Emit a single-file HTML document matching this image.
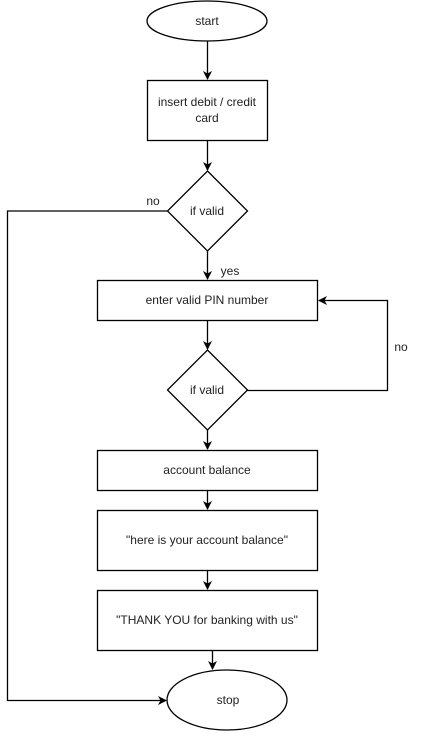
<!DOCTYPE html>
<html><head><style>body{margin:0;background:#fff}</style></head><body>
<svg width="424" height="731" xmlns="http://www.w3.org/2000/svg" font-family="Liberation Sans, Arial, sans-serif" font-size="12" fill="#222">
<defs><marker id="a" markerWidth="10" markerHeight="10" refX="8" refY="5" orient="auto" markerUnits="userSpaceOnUse"><path d="M0,0.5 L9,5 L0,9.5 L2.5,5 z" fill="#000"/></marker></defs>
<g stroke="#000" stroke-width="1.3" fill="none">
<ellipse cx="207" cy="21" rx="60" ry="20" fill="#fff"/>
<rect x="147.5" y="80.5" width="120" height="60" fill="#fff"/>
<path d="M207.5 171 L247.5 211 L207.5 251 L167.5 211 Z" fill="#fff"/>
<rect x="97.5" y="280.5" width="220" height="40" fill="#fff"/>
<path d="M207.5 350 L247.5 390 L207.5 430 L167.5 390 Z" fill="#fff"/>
<rect x="97.5" y="450.5" width="220" height="40" fill="#fff"/>
<rect x="97.5" y="510.5" width="220" height="60" fill="#fff"/>
<rect x="97.5" y="590.5" width="220" height="60" fill="#fff"/>
<ellipse cx="227" cy="700" rx="60" ry="30" fill="#fff"/>
<path d="M207.5 41 V79" marker-end="url(#a)"/>
<path d="M207.5 141 V170" marker-end="url(#a)"/>
<path d="M207.5 251 V279" marker-end="url(#a)"/>
<path d="M207.5 321 V349" marker-end="url(#a)"/>
<path d="M207.5 430 V449" marker-end="url(#a)"/>
<path d="M207.5 491 V509" marker-end="url(#a)"/>
<path d="M207.5 571 V589" marker-end="url(#a)"/>
<path d="M212.5 651 V669" marker-end="url(#a)"/>
<path d="M167.5 211 H7.5 V700.5 H166" marker-end="url(#a)"/>
<path d="M247.5 390.5 H387.5 V300.5 H319" marker-end="url(#a)"/>
</g>
<g text-anchor="middle">
<text x="207" y="25">start</text>
<text x="207" y="106">insert debit / credit</text>
<text x="207" y="122">card</text>
<text x="207" y="215">if valid</text>
<text x="207" y="304">enter valid PIN number</text>
<text x="207" y="394">if valid</text>
<text x="207" y="474">account balance</text>
<text x="207" y="544">"here is your account balance"</text>
<text x="207" y="624">"THANK YOU for banking with us"</text>
<text x="228" y="704">stop</text>
<text x="153" y="205">no</text>
<text x="230" y="275">yes</text>
<text x="401" y="351">no</text>
</g>
</svg>
</body></html>
